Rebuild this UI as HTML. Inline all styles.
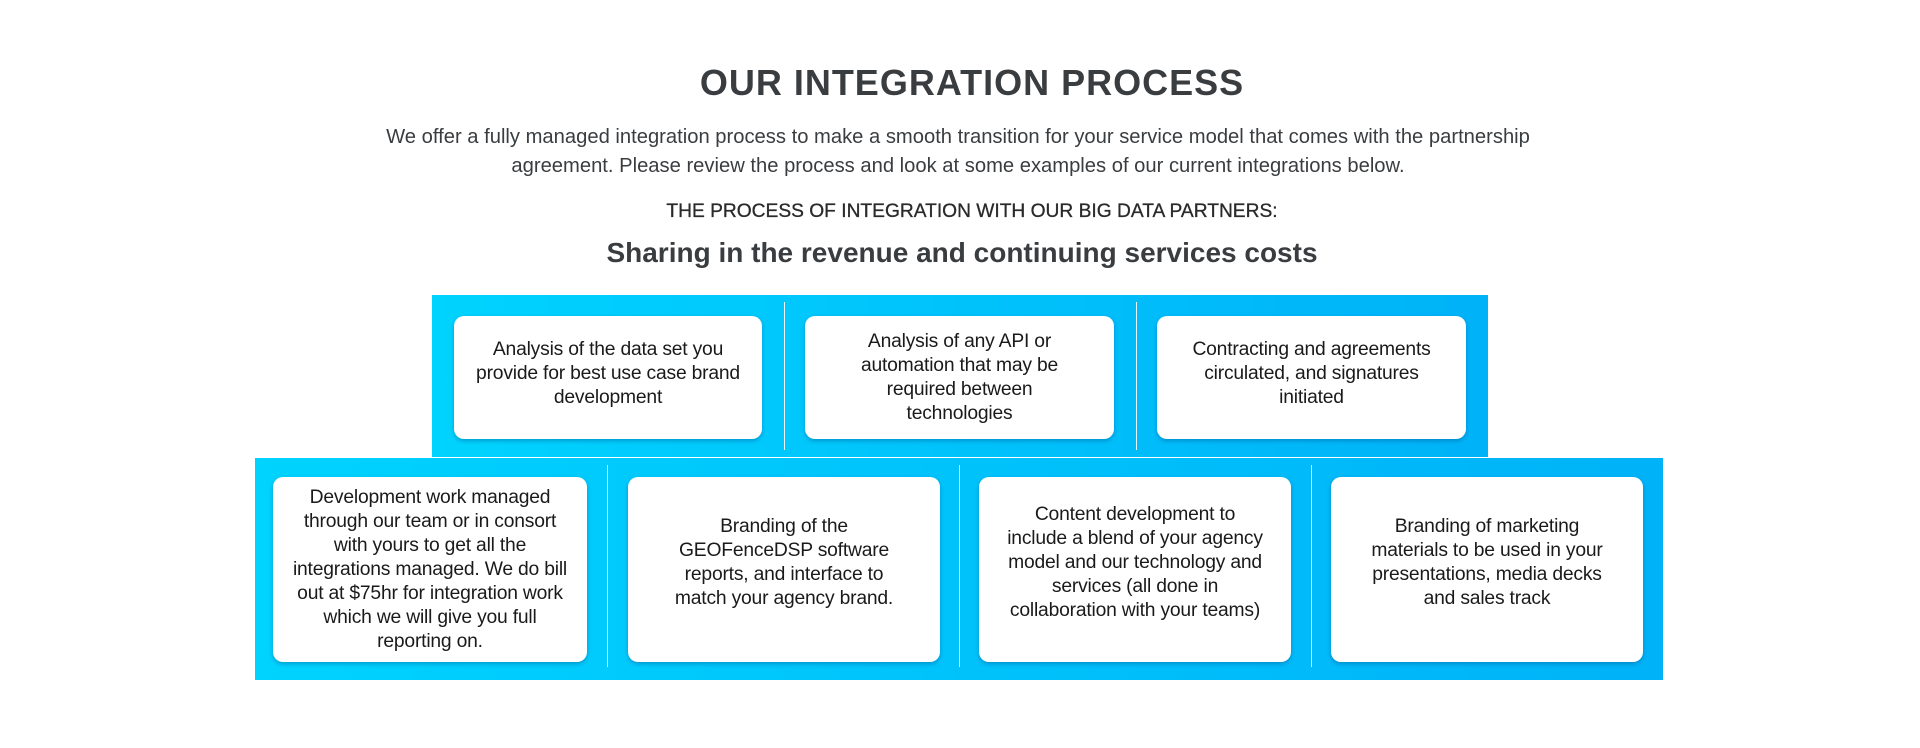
<!DOCTYPE html>
<html><head><meta charset="utf-8"><style>
*{margin:0;padding:0;box-sizing:border-box}
body{width:1920px;height:748px;background:#fff;font-family:"Liberation Sans",sans-serif;color:#222;position:relative;overflow:hidden}
.c{position:absolute;left:0;width:1944px;text-align:center;white-space:nowrap}
.band{position:absolute;background:linear-gradient(90deg,#00d3fe,#00b2f8)}
.card{position:absolute;background:#fff;border-radius:10px;box-shadow:0 2px 4px rgba(0,60,120,.35);display:flex;align-items:center;justify-content:center;text-align:center;font-size:19.3px;line-height:24px;color:#1a1a1a;white-space:nowrap;letter-spacing:-0.2px}
.div{position:absolute;width:1px;background:rgba(255,255,255,.9)}
</style></head><body>
<div class="c" style="top:62px;font-size:36px;font-weight:bold;color:#3a3d40;letter-spacing:1px">OUR INTEGRATION PROCESS</div>
<div style="position:absolute;left:0;width:1916px;top:123px;text-align:center;font-size:20.2px;line-height:29px;color:#3a3d40;white-space:nowrap">We offer a fully managed integration process to make a smooth transition for your service model that comes with the partnership<br>agreement. Please review the process and look at some examples of our current integrations below.</div>
<div class="c" style="top:201px;font-size:19.2px;color:#2a2a2a;-webkit-text-stroke:0.3px #2a2a2a">THE PROCESS OF INTEGRATION WITH OUR BIG DATA PARTNERS:</div>
<div class="c" style="top:237px;font-size:28px;font-weight:bold;color:#3a3d40;left:-10px">Sharing in the revenue and continuing services costs</div>

<div class="band" style="left:432px;top:295px;width:1056px;height:162px"></div>
<div class="band" style="left:255px;top:458px;width:1408px;height:222px"></div>
<div class="div" style="left:784px;top:302px;height:148px"></div>
<div class="div" style="left:1136px;top:302px;height:148px"></div>
<div class="div" style="left:607px;top:465px;height:202px"></div>
<div class="div" style="left:959px;top:465px;height:202px"></div>
<div class="div" style="left:1311px;top:465px;height:202px"></div>

<div class="card" style="left:454px;top:316px;width:308px;height:123px;padding-bottom:8px">Analysis of the data set you<br>provide for best use case brand<br>development</div>
<div class="card" style="left:805px;top:316px;width:309px;height:123px">Analysis of any API or<br>automation that may be<br>required between<br>technologies</div>
<div class="card" style="left:1157px;top:316px;width:309px;height:123px;padding-bottom:8px">Contracting and agreements<br>circulated, and signatures<br>initiated</div>

<div class="card" style="left:273px;top:477px;width:314px;height:185px">Development work managed<br>through our team or in consort<br>with yours to get all the<br>integrations managed. We do bill<br>out at $75hr for integration work<br>which we will give you full<br>reporting on.</div>
<div class="card" style="left:628px;top:477px;width:312px;height:185px;padding-bottom:14px">Branding of the<br>GEOFenceDSP software<br>reports, and interface to<br>match your agency brand.</div>
<div class="card" style="left:979px;top:477px;width:312px;height:185px;padding-bottom:14px">Content development to<br>include a blend of your agency<br>model and our technology and<br>services (all done in<br>collaboration with your teams)</div>
<div class="card" style="left:1331px;top:477px;width:312px;height:185px;padding-bottom:14px">Branding of marketing<br>materials to be used in your<br>presentations, media decks<br>and sales track</div>
</body></html>
